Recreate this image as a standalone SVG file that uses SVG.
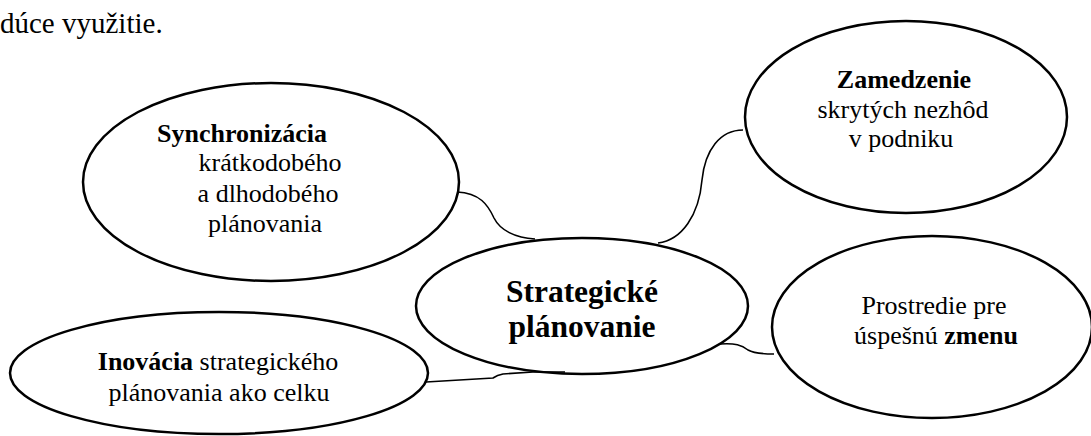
<svg xmlns="http://www.w3.org/2000/svg" width="1091" height="436" viewBox="0 0 1091 436" xml:lang="sk">
<style>
  .node ellipse { fill: #ffffff; stroke: #000000; stroke-width: 2.5; }
  .conn path { fill: none; stroke: #000000; stroke-width: 1.6; }
</style>
<rect x="0" y="0" width="1091" height="436" fill="#ffffff"/>
<text x="0" y="33" font-size="29" font-family="Liberation Serif, serif" fill="#000000">d&#250;ce vyu&#382;itie.</text>

<g id="nodes" font-family="Liberation Serif, serif" font-size="26" text-anchor="middle" fill="#000000">
<g id="node-synchronizacia" class="node">
  <ellipse cx="271" cy="182" rx="188" ry="99"/>
  <text x="242" y="142" font-weight="bold">Synchroniz&#225;cia</text>
  <text x="270" y="171">kr&#225;tkodob&#233;ho</text>
  <text x="268" y="202">a dlhodob&#233;ho</text>
  <text x="265" y="232">pl&#225;novania</text>
</g>

<g id="node-zamedzenie" class="node">
  <ellipse cx="906" cy="117" rx="161" ry="96"/>
  <text x="904" y="88" font-weight="bold">Zamedzenie</text>
  <text x="903" y="118">skryt&#253;ch nezh&#244;d</text>
  <text x="901" y="147">v podniku</text>
</g>

<g id="node-strategicke" class="node">
  <ellipse cx="582" cy="306" rx="166" ry="68"/>
  <text x="582" y="302" font-size="31.5" font-weight="bold">Strategick&#233;</text>
  <text x="582" y="337" font-size="31.5" font-weight="bold">pl&#225;novanie</text>
</g>

<g id="node-prostredie" class="node">
  <ellipse cx="932" cy="327" rx="160" ry="91"/>
  <text x="934" y="314">Prostredie pre</text>
  <text x="936" y="344">&#250;spe&#353;n&#250; <tspan font-weight="bold">zmenu</tspan></text>
</g>

<g id="node-inovacia" class="node">
  <ellipse cx="219" cy="373" rx="209" ry="61"/>
  <text x="218" y="370"><tspan font-weight="bold">Inov&#225;cia</tspan> strategick&#233;ho</text>
  <text x="219" y="401">pl&#225;novania ako celku</text>
</g>
</g>

<g id="connectors" class="conn">
  <path d="M457,192 C480,193 488,205 494,218 C500,230 515,238 535,239"/>
  <path d="M743,130 C720,130 705,150 702,180 C699,215 682,240 658,243"/>
  <path d="M720,344 C735,343 742,345 748,350 C755,354 765,354 774,354"/>
  <path d="M426,382 L493,378 C496,376 498,375 503,374 L533,372 L565,372"/>
</g>
</svg>
